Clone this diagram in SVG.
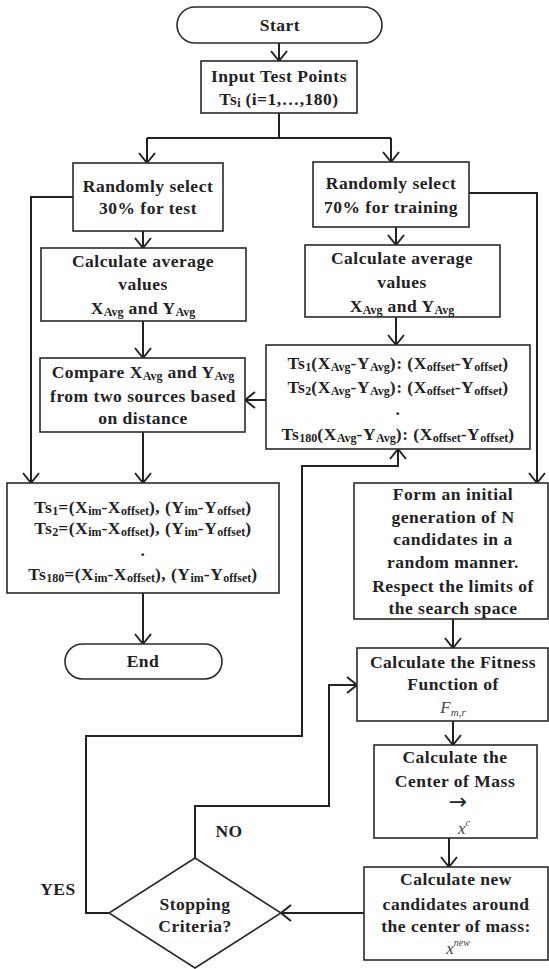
<svg xmlns="http://www.w3.org/2000/svg" width="549" height="969" viewBox="0 0 549 969">
<style>
.box{fill:#fff;stroke:#2a2a2a;stroke-width:1.6}
.ln{fill:none;stroke:#222;stroke-width:2}
.t{font-family:"Liberation Serif","Times New Roman",serif;font-weight:bold;font-size:17.5px;fill:#222;text-anchor:middle;letter-spacing:0.5px}
.s{font-size:12px;letter-spacing:0}
.it{font-family:"Liberation Serif","Times New Roman",serif;font-style:italic;font-size:17px;fill:#444;text-anchor:middle}
</style>
<defs>
<marker id="ar" viewBox="0 0 18 18" refX="16" refY="9" markerWidth="18" markerHeight="18" markerUnits="userSpaceOnUse" orient="auto">
<path d="M6,1 L16,9 L6,17" fill="none" stroke="#222" stroke-width="2"/>
</marker>
</defs>
<rect width="549" height="969" fill="#fff"/>
<g id="connectors">
<path class="ln" d="M279,43 V61" marker-end="url(#ar)"/>
<path class="ln" d="M279,113 V138 M147,138 H391"/>
<path class="ln" d="M147,138 V163" marker-end="url(#ar)"/>
<path class="ln" d="M391,138 V162" marker-end="url(#ar)"/>
<path class="ln" d="M73,197 H31 V483" marker-end="url(#ar)"/>
<path class="ln" d="M143,231 V248" marker-end="url(#ar)"/>
<path class="ln" d="M143,321 V358" marker-end="url(#ar)"/>
<path class="ln" d="M143,432 V483" marker-end="url(#ar)"/>
<path class="ln" d="M143,593 V644" marker-end="url(#ar)"/>
<path class="ln" d="M469,193 H537 V483" marker-end="url(#ar)"/>
<path class="ln" d="M396,227 V245" marker-end="url(#ar)"/>
<path class="ln" d="M396,317 V345" marker-end="url(#ar)"/>
<path class="ln" d="M266,400 H245" marker-end="url(#ar)"/>
<path class="ln" d="M453,619 V648" marker-end="url(#ar)"/>
<path class="ln" d="M453,721 V745" marker-end="url(#ar)"/>
<path class="ln" d="M449,838 V867" marker-end="url(#ar)"/>
<path class="ln" d="M364,913 H281" marker-end="url(#ar)"/>
<path class="ln" d="M109,913 H86 V736 H302 V466 H398 V449" marker-end="url(#ar)"/>
<path class="ln" d="M195,858 V806 H329 V685 H357" marker-end="url(#ar)"/>
</g>
<g id="start">
<rect class="box" x="177" y="7" width="205" height="36" rx="18"/>
<text class="t" x="280" y="31">Start</text>
</g>
<g id="input">
<rect class="box" x="201" y="61" width="156" height="52"/>
<text class="t" x="279" y="82">Input Test Points</text>
<text class="t" x="279" y="105">Ts<tspan class="s" dy="2">i</tspan><tspan dy="-2"> (i=1,…,180)</tspan></text>
</g>
<g id="select30">
<rect class="box" x="73" y="163" width="150" height="68"/>
<text class="t" x="148" y="192">Randomly select</text>
<text class="t" x="148" y="214">30% for test</text>
</g>
<g id="select70">
<rect class="box" x="313" y="162" width="156" height="65"/>
<text class="t" x="391" y="189">Randomly select</text>
<text class="t" x="391" y="213">70% for training</text>
</g>
<g id="avgLeft">
<rect class="box" x="41" y="248" width="205" height="73"/>
<text class="t" x="143" y="267">Calculate average</text>
<text class="t" x="143" y="290">values</text>
<text class="t" x="143" y="314">X<tspan class="s" dy="2">Avg</tspan><tspan dy="-2"> and Y</tspan><tspan class="s" dy="2">Avg</tspan></text>
</g>
<g id="avgRight">
<rect class="box" x="305" y="245" width="195" height="72"/>
<text class="t" x="402" y="264">Calculate average</text>
<text class="t" x="402" y="288">values</text>
<text class="t" x="402" y="312">X<tspan class="s" dy="2">Avg</tspan><tspan dy="-2"> and Y</tspan><tspan class="s" dy="2">Avg</tspan></text>
</g>
<g id="compare">
<rect class="box" x="40" y="358" width="205" height="74"/>
<text class="t" x="143" y="378">Compare X<tspan class="s" dy="2">Avg</tspan><tspan dy="-2"> and Y</tspan><tspan class="s" dy="2">Avg</tspan></text>
<text class="t" x="143" y="402">from two sources based</text>
<text class="t" x="143" y="424">on distance</text>
</g>
<g id="tsTrain">
<rect class="box" x="266" y="345" width="264" height="104"/>
<text class="t" x="398" y="369">Ts<tspan class="s" dy="2">1</tspan><tspan dy="-2">(X</tspan><tspan class="s" dy="2">Avg</tspan><tspan dy="-2">-Y</tspan><tspan class="s" dy="2">Avg</tspan><tspan dy="-2">): (X</tspan><tspan class="s" dy="2">offset</tspan><tspan dy="-2">-Y</tspan><tspan class="s" dy="2">offset</tspan><tspan dy="-2">)</tspan></text>
<text class="t" x="398" y="393">Ts<tspan class="s" dy="2">2</tspan><tspan dy="-2">(X</tspan><tspan class="s" dy="2">Avg</tspan><tspan dy="-2">-Y</tspan><tspan class="s" dy="2">Avg</tspan><tspan dy="-2">): (X</tspan><tspan class="s" dy="2">offset</tspan><tspan dy="-2">-Y</tspan><tspan class="s" dy="2">offset</tspan><tspan dy="-2">)</tspan></text>
<text class="t" x="398" y="415">.</text>
<text class="t" x="398" y="440">Ts<tspan class="s" dy="2">180</tspan><tspan dy="-2">(X</tspan><tspan class="s" dy="2">Avg</tspan><tspan dy="-2">-Y</tspan><tspan class="s" dy="2">Avg</tspan><tspan dy="-2">): (X</tspan><tspan class="s" dy="2">offset</tspan><tspan dy="-2">-Y</tspan><tspan class="s" dy="2">offset</tspan><tspan dy="-2">)</tspan></text>
</g>
<g id="tsResult">
<rect class="box" x="7" y="483" width="272" height="110"/>
<text class="t" x="143" y="513">Ts<tspan class="s" dy="2">1</tspan><tspan dy="-2">=(X</tspan><tspan class="s" dy="2">im</tspan><tspan dy="-2">-X</tspan><tspan class="s" dy="2">offset</tspan><tspan dy="-2">), (Y</tspan><tspan class="s" dy="2">im</tspan><tspan dy="-2">-Y</tspan><tspan class="s" dy="2">offset</tspan><tspan dy="-2">)</tspan></text>
<text class="t" x="143" y="534">Ts<tspan class="s" dy="2">2</tspan><tspan dy="-2">=(X</tspan><tspan class="s" dy="2">im</tspan><tspan dy="-2">-X</tspan><tspan class="s" dy="2">offset</tspan><tspan dy="-2">), (Y</tspan><tspan class="s" dy="2">im</tspan><tspan dy="-2">-Y</tspan><tspan class="s" dy="2">offset</tspan><tspan dy="-2">)</tspan></text>
<text class="t" x="143" y="556">.</text>
<text class="t" x="143" y="580">Ts<tspan class="s" dy="2">180</tspan><tspan dy="-2">=(X</tspan><tspan class="s" dy="2">im</tspan><tspan dy="-2">-X</tspan><tspan class="s" dy="2">offset</tspan><tspan dy="-2">), (Y</tspan><tspan class="s" dy="2">im</tspan><tspan dy="-2">-Y</tspan><tspan class="s" dy="2">offset</tspan><tspan dy="-2">)</tspan></text>
</g>
<g id="end">
<rect class="box" x="65" y="644" width="157" height="35" rx="17.5"/>
<text class="t" x="143" y="667">End</text>
</g>
<g id="form">
<rect class="box" x="354" y="483" width="194" height="136"/>
<text class="t" x="453" y="500">Form an initial</text>
<text class="t" x="453" y="523">generation of N</text>
<text class="t" x="453" y="545">candidates in a</text>
<text class="t" x="453" y="568">random manner.</text>
<text class="t" x="453" y="592">Respect the limits of</text>
<text class="t" x="453" y="614">the search space</text>
</g>
<g id="fitness">
<rect class="box" x="357" y="648" width="191" height="73"/>
<text class="t" x="453" y="668">Calculate the Fitness</text>
<text class="t" x="453" y="690">Function of</text>
<text class="it" x="453" y="713">F<tspan font-size="11" dy="3">m,r</tspan></text>
</g>
<g id="centerMass">
<rect class="box" x="374" y="745" width="163" height="93"/>
<text class="t" x="455" y="763">Calculate the</text>
<text class="t" x="455" y="787">Center of Mass</text>
<text x="458" y="809" font-family="DejaVu Sans,sans-serif" font-size="22" fill="#222" text-anchor="middle">→</text>
<text class="it" x="464" y="834">x<tspan font-size="10" dy="-8">c</tspan></text>
</g>
<g id="newCand">
<rect class="box" x="364" y="867" width="184" height="93"/>
<text class="t" x="456" y="885">Calculate new</text>
<text class="t" x="456" y="910">candidates around</text>
<text class="t" x="456" y="932">the center of mass:</text>
<text class="it" x="458" y="954">x<tspan font-size="10" dy="-8">new</tspan></text>
</g>
<g id="stop">
<polygon class="box" points="195,858 281,913 195,968 109,913"/>
<text class="t" x="195" y="910">Stopping</text>
<text class="t" x="195" y="932">Criteria?</text>
</g>
<g id="labels">
<text class="t" x="58" y="895">YES</text>
<text class="t" x="229" y="837">NO</text>
</g>
</svg>
